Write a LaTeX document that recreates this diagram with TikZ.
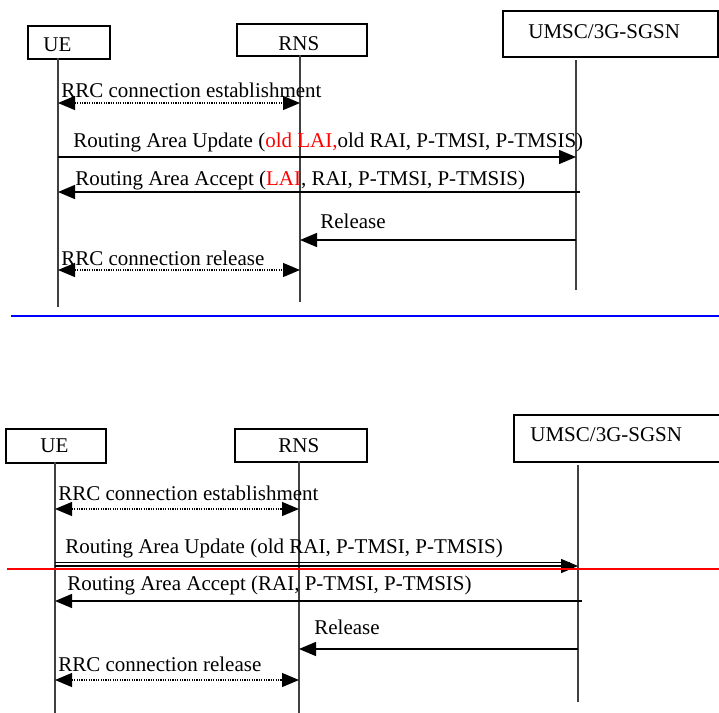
\documentclass[tikz,border=0pt]{standalone}
\usepackage{fontspec}
\setmainfont{Liberation Serif}
\usetikzlibrary{arrows.meta}

\begin{document}
\begin{tikzpicture}[x=0.5pt,y=-0.5pt,font=\fontsize{10.5}{12.6}\selectfont,>={Triangle[length=8.5pt,width=7pt]},
  entity/.style={draw=black,line width=0.8pt,anchor=north west,inner sep=0pt},
  entname/.style={anchor=base west,inner sep=0pt},
  lifeline/.style={draw=black!75,line width=0.55pt},
  msg/.style={->,line width=0.7pt},
  rrc/.style={<->,line width=0.6pt,dash pattern=on 0.6pt off 0.6pt},
  msgtext/.style={anchor=base west,inner sep=0pt}]
\useasboundingbox (0,0) rectangle (719,713);

% ---- upper chart
\node[entity,minimum width=41pt,minimum height=16.5pt] (ueA) at (27,25) {};
\node[entity,minimum width=65pt,minimum height=16pt] (rnsA) at (236,23) {};
\node[entity,minimum width=107.5pt,minimum height=23pt] (cnA) at (502,10) {};
\node[entname] (ueAname) at (43,51) {UE};
\node[entname] (rnsAname) at (278,50) {RNS};
\node[entname] (cnAname) at (528,38) {UMSC/3G-SGSN};

\coordinate (ueAl) at (58,58);   \coordinate (ueAe) at (58,307);
\coordinate (rnsAl) at (300,55); \coordinate (rnsAe) at (300,302);
\coordinate (cnAl) at (576,60);  \coordinate (cnAe) at (576,290);
\draw[lifeline] (ueAl) -- (ueAe);
\draw[lifeline] (rnsAl) -- (rnsAe);
\draw[lifeline] (cnAl) -- (cnAe);

\draw[rrc] (ueAl |- 0,103) -- (rnsAl |- 0,103);
\node[msgtext] (estA) at (61,97) {RRC connection establishment};
\draw[msg] (ueAl |- 0,157) -- (cnAl |- 0,157);
\node[msgtext] (rauA) at (73,147) {Routing Area Update (\textcolor{red}{old LAI,}old RAI, P-TMSI, P-TMSIS)};
\draw[msg] ([xshift=2pt]cnAl |- 0,192) -- (ueAl |- 0,192);
\node[msgtext] (accA) at (75,185) {Routing Area Accept (\textcolor{red}{LAI}, RAI, P-TMSI, P-TMSIS)};
\draw[msg] (cnAl |- 0,240) -- (rnsAl |- 0,240);
\node[msgtext] (relA) at (320,228) {Release};
\draw[rrc] (ueAl |- 0,270) -- (rnsAl |- 0,270);
\node[msgtext] (rrcrelA) at (61,265) {RRC connection release};

\coordinate (sepAl) at (11,316); \coordinate (sepAr) at (719,316);
\draw[blue,line width=1pt] (sepAl) -- (sepAr);

% ---- lower chart
\node[entity,minimum width=50pt,minimum height=17pt] (ueB) at (5,428) {};
\node[entity,minimum width=66pt,minimum height=16.5pt] (rnsB) at (234,428) {};
\node[entity,minimum width=106pt,minimum height=23.5pt] (cnB) at (513,414) {};
\node[entname] (ueBname) at (40,452) {UE};
\node[entname] (rnsBname) at (278,452) {RNS};
\node[entname] (cnBname) at (530,441) {UMSC/3G-SGSN};

\coordinate (ueBl) at (55,462);  \coordinate (ueBe) at (55,713);
\coordinate (rnsBl) at (299,461); \coordinate (rnsBe) at (299,713);
\coordinate (cnBl) at (578,465); \coordinate (cnBe) at (578,702);
\draw[lifeline] (ueBl) -- (ueBe);
\draw[lifeline] (rnsBl) -- (rnsBe);
\draw[lifeline] (cnBl) -- (cnBe);

\draw[rrc] (ueBl |- 0,509) -- (rnsBl |- 0,509);
\node[msgtext] (estB) at (58,500) {RRC connection establishment};
\draw[msg] (ueBl |- 0,566) -- (cnBl |- 0,566);
\draw[line width=0.5pt] (ueBl |- 0,562.5) -- ([xshift=-4pt]cnBl |- 0,562.5);
\node[msgtext] (rauB) at (65,553) {Routing Area Update (old RAI, P-TMSI, P-TMSIS)};
\draw[msg] ([xshift=2pt]cnBl |- 0,601) -- (ueBl |- 0,601);
\node[msgtext] (accB) at (67,590) {Routing Area Accept (RAI, P-TMSI, P-TMSIS)};
\draw[msg] (cnBl |- 0,649) -- (rnsBl |- 0,649);
\node[msgtext] (relB) at (314,634) {Release};
\draw[rrc] (ueBl |- 0,680) -- (rnsBl |- 0,680);
\node[msgtext] (rrcrelB) at (58,671) {RRC connection release};

\coordinate (sepBl) at (7,569); \coordinate (sepBr) at (719,569);
\draw[red,line width=1pt] (sepBl) -- (sepBr);
\end{tikzpicture}
\end{document}
